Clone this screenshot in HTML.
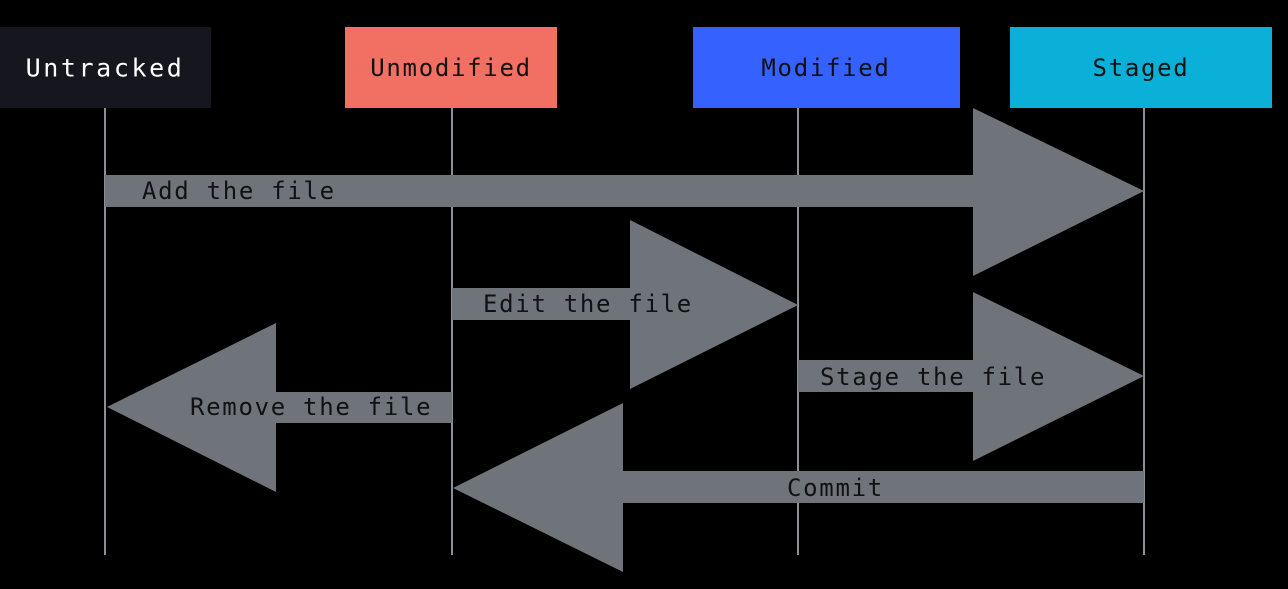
<!DOCTYPE html>
<html><head><style>
html,body{margin:0;padding:0;background:#000;}
svg{display:block;}
text{font-family:"DejaVu Sans Mono","Liberation Mono",monospace;font-size:24px;letter-spacing:1.7px;}
</style></head><body>
<svg width="1288" height="589" xmlns="http://www.w3.org/2000/svg">
<rect width="1288" height="589" fill="#000"/>
<g stroke="#8a8f96" stroke-width="2">
<line x1="105" y1="108" x2="105" y2="555"/>
<line x1="452" y1="108" x2="452" y2="555"/>
<line x1="798" y1="108" x2="798" y2="555"/>
<line x1="1144" y1="108" x2="1144" y2="555"/>
</g>
<rect x="0" y="27" width="211" height="81" fill="#16161e"/>
<rect x="345" y="27" width="212" height="81" fill="#f26f63"/>
<rect x="693" y="27" width="267" height="81" fill="#3562ff"/>
<rect x="1010" y="27" width="262" height="81" fill="#0ab0d8"/>
<g text-anchor="middle" dominant-baseline="central">
<text x="105" y="68" fill="#fff" style="font-size:25px;letter-spacing:2.6px">Untracked</text>
<text x="451" y="68" fill="#111">Unmodified</text>
<text x="826" y="68" fill="#111">Modified</text>
<text x="1141" y="68" fill="#111">Staged</text>
</g>
<g fill="#6f747b">
<polygon points="105,175 973,175 973,108 1144,191 973,276 973,207 105,207"/>
<polygon points="452,288 630,288 630,220 798,305 630,389 630,320 452,320"/>
<polygon points="798,360 973,360 973,292 1144,376 973,461 973,392 798,392"/>
<polygon points="452,392 276,392 276,323 107,407 276,492 276,423 452,423"/>
<polygon points="1144,471 623,471 623,403 453,488 623,572 623,503 1144,503"/>
</g>
<g fill="#111" dominant-baseline="central">
<text x="142" y="191">Add the file</text>
<text x="483" y="304">Edit the file</text>
<text x="820" y="377">Stage the file</text>
<text x="190" y="407">Remove the file</text>
<text x="787" y="488">Commit</text>
</g>
</svg>
</body></html>
